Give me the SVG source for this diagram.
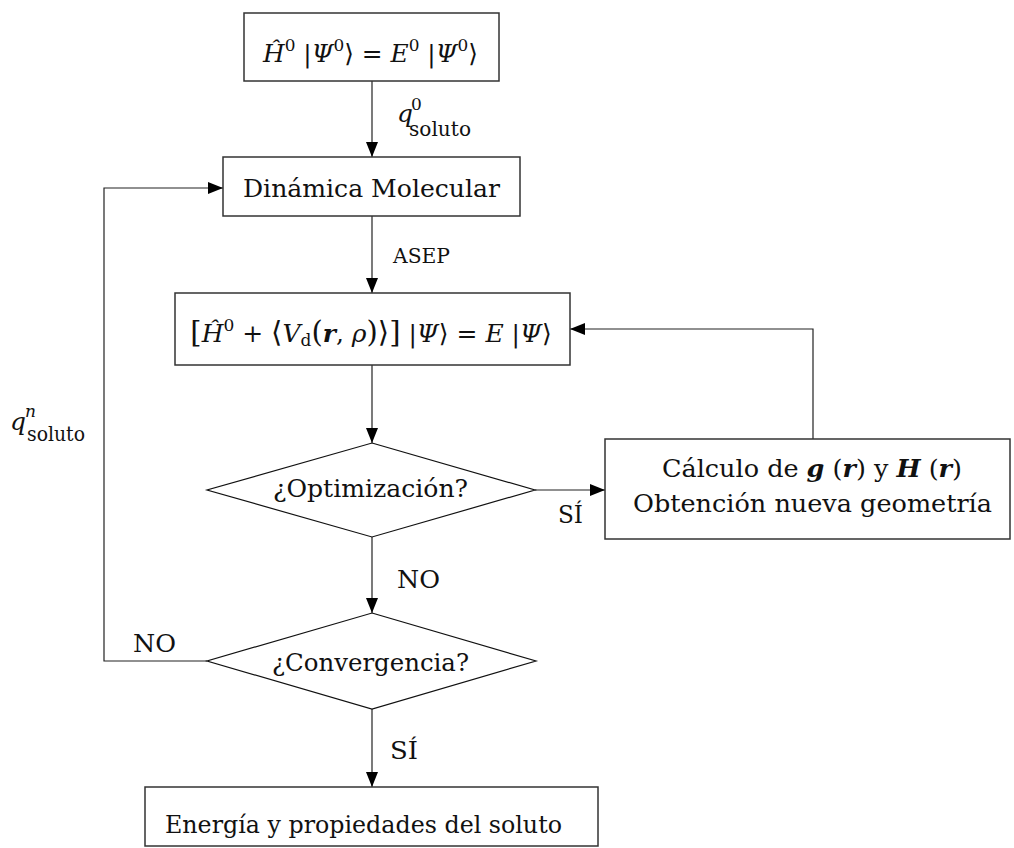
<svg xmlns="http://www.w3.org/2000/svg" width="1014" height="848" viewBox="0 0 1014 848">
<defs>
<marker id="ah" viewBox="0 0 15 12" refX="15" refY="6" markerWidth="15" markerHeight="12" markerUnits="userSpaceOnUse" orient="auto">
<path d="M0,0 L15,6 L0,12 Z" fill="#000"/>
</marker>
<style>
.box{fill:#fff;stroke:#333;stroke-width:1.5}
.dia{fill:#fff;stroke:#111;stroke-width:1.2}
.con{fill:none;stroke:#222;stroke-width:1.2}
text{font-family:"DejaVu Serif","Liberation Serif",serif;fill:#111;font-size:25px}
.i{font-style:italic}
.bi{font-style:italic;font-weight:bold}
.sm{font-size:20px}
.sup{font-size:17px}
</style>
</defs>
<rect width="1014" height="848" fill="#fff"/>
<g id="connectors">
<path class="con" d="M372,81 V157" marker-end="url(#ah)"/>
<path class="con" d="M372,216 V293" marker-end="url(#ah)"/>
<path class="con" d="M372,365 V443" marker-end="url(#ah)"/>
<path class="con" d="M535,490 H605" marker-end="url(#ah)"/>
<path class="con" d="M813,439 V329 H570" marker-end="url(#ah)"/>
<path class="con" d="M372,537 V613" marker-end="url(#ah)"/>
<path class="con" d="M207,661 H104 V188 H223" marker-end="url(#ah)"/>
<path class="con" d="M372,709 V787" marker-end="url(#ah)"/>
</g>
<g id="n1">
<rect class="box" x="244" y="13" width="255" height="68"/>
<text x="263" y="62" textLength="215" lengthAdjust="spacingAndGlyphs"><tspan class="i">Ĥ</tspan><tspan class="sup" dy="-11">0</tspan><tspan dy="11"> |</tspan><tspan class="i">Ψ</tspan><tspan class="sup" dy="-11">0</tspan><tspan dy="11">⟩ = </tspan><tspan class="i">E</tspan><tspan class="sup" dy="-11">0</tspan><tspan dy="11"> |</tspan><tspan class="i">Ψ</tspan><tspan class="sup" dy="-11">0</tspan><tspan dy="11">⟩</tspan></text>
</g>
<g id="lbl-q0">
<text class="i" x="397" y="122" font-size="26">q</text>
<text class="sup" x="411" y="110" font-size="18">0</text>
<text class="sm" x="409" y="136" textLength="62" lengthAdjust="spacingAndGlyphs">soluto</text>
</g>
<g id="n2">
<rect class="box" x="223" y="157" width="297" height="59"/>
<text x="243" y="197" textLength="257" lengthAdjust="spacingAndGlyphs">Dinámica Molecular</text>
</g>
<g id="lbl-asep">
<text class="sm" x="393" y="263" textLength="57" lengthAdjust="spacingAndGlyphs">ASEP</text>
</g>
<g id="n3">
<rect class="box" x="175" y="293" width="395" height="72"/>
<text x="371" y="342" text-anchor="middle" font-size="24"><tspan font-size="29">[</tspan><tspan class="i">Ĥ</tspan><tspan class="sup" dy="-11">0</tspan><tspan dy="11"> + </tspan><tspan font-size="29">⟨</tspan><tspan class="i">V</tspan><tspan class="sup" dy="4">d</tspan><tspan dy="-4" font-size="29">(</tspan><tspan class="bi">r</tspan><tspan>, </tspan><tspan class="i">ρ</tspan><tspan font-size="29">)⟩]</tspan><tspan> |</tspan><tspan class="i">Ψ</tspan><tspan>⟩ = </tspan><tspan class="i">E</tspan><tspan> |</tspan><tspan class="i">Ψ</tspan><tspan>⟩</tspan></text>
</g>
<g id="n4">
<polygon class="dia" points="372,443 535,490 372,537 207,490"/>
<text x="273" y="497" textLength="195" lengthAdjust="spacingAndGlyphs">¿Optimización?</text>
</g>
<g id="lbl-si1">
<text x="558" y="523" textLength="25" lengthAdjust="spacingAndGlyphs">SÍ</text>
</g>
<g id="n5">
<rect class="box" x="605" y="439" width="405" height="100"/>
<text x="662" y="477" textLength="300" lengthAdjust="spacingAndGlyphs">Cálculo de <tspan class="bi">g</tspan> (<tspan class="bi">r</tspan>) y <tspan class="bi">H</tspan> (<tspan class="bi">r</tspan>)</text>
<text x="633" y="512" textLength="359" lengthAdjust="spacingAndGlyphs">Obtención nueva geometría</text>
</g>
<g id="lbl-no1">
<text x="397" y="588" textLength="43" lengthAdjust="spacingAndGlyphs">NO</text>
</g>
<g id="n6">
<polygon class="dia" points="372,613 536,661 372,709 207,661"/>
<text x="272" y="671" textLength="197" lengthAdjust="spacingAndGlyphs">¿Convergencia?</text>
</g>
<g id="lbl-no2">
<text x="133" y="652" textLength="43" lengthAdjust="spacingAndGlyphs">NO</text>
</g>
<g id="lbl-qn">
<text class="i" x="10" y="430" font-size="26">q</text>
<text class="sup i" x="25" y="417" font-size="18">n</text>
<text class="sm" x="27" y="441" textLength="58" lengthAdjust="spacingAndGlyphs">soluto</text>
</g>
<g id="lbl-si2">
<text x="390" y="759" textLength="28" lengthAdjust="spacingAndGlyphs">SÍ</text>
</g>
<g id="n7">
<rect class="box" x="145" y="787" width="453" height="59"/>
<text x="165" y="833" textLength="397" lengthAdjust="spacingAndGlyphs">Energía y propiedades del soluto</text>
</g>
</svg>
